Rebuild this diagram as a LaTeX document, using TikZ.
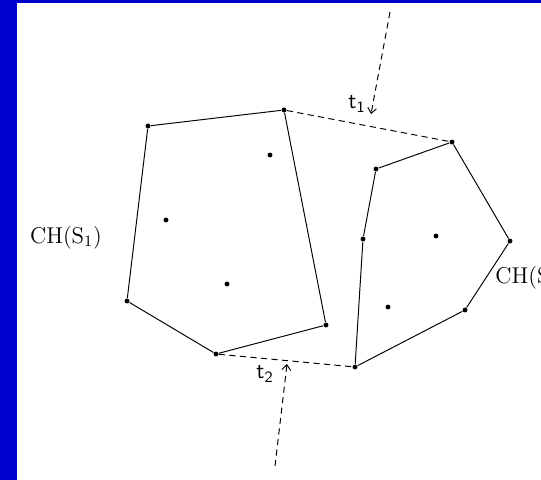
\documentclass[tikz,border=0pt]{standalone}
\usetikzlibrary{positioning, arrows.meta}
\definecolor{frameblue}{RGB}{0,0,204}
\tikzset{
    pt/.style={circle, fill=black, inner sep=0pt, minimum size=2.8pt},
    hull/.style={font=\fontsize{13}{15}\selectfont},
    tlab/.style={font=\fontsize{13}{15}\selectfont\sffamily},
    tang/.style={dash pattern=on 3.5pt off 2.5pt},
    pointer/.style={tang, -{Straight Barb[length=3pt, width=5pt]}}
}

\begin{document}
\begin{tikzpicture}[x=0.02cm, y=-0.02cm, line width=0.55pt]
    % Frame and clipping area
    \clip (0,0) rectangle (541,480);
    \fill[frameblue] (0,0) rectangle (17,480);
    \fill[frameblue] (0,0) rectangle (541,3);

    % Points of S1 (hull, clockwise from top left)
    \node[pt] (a1) at (148,126) {};
    \node[pt] (a2) at (284,110) {};
    \node[pt] (a3) at (326,325) {};
    \node[pt] (a4) at (216,354) {};
    \node[pt] (a5) at (127,301) {};
    % inner points of S1
    \node[pt] (a6) at (270,155) {};
    \node[pt] (a7) at (166,220) {};
    \node[pt] (a8) at (227,284) {};

    % Points of S2 (hull, clockwise from top left)
    \node[pt] (b1) at (376,169) {};
    \node[pt] (b2) at (452,142) {};
    \node[pt] (b3) at (510,241) {};
    \node[pt] (b4) at (465,310) {};
    \node[pt] (b5) at (355,367) {};
    \node[pt] (b6) at (363,239) {};
    % inner points of S2
    \node[pt] (b7) at (436,236) {};
    \node[pt] (b8) at (388,307) {};

    % Draw hulls
    \draw (a1) -- (a2) -- (a3) -- (a4) -- (a5) -- (a1);
    \draw (b1) -- (b2) -- (b3) -- (b4) -- (b5) -- (b6) -- (b1);

    % Tangents
    \draw[tang] (a2) -- (b2);
    \draw[tang] (a4) -- (b5);

    % Arrows to the tangents
    \coordinate (t1s) at (390,12);
    \coordinate (t1e) at (371,114);
    \coordinate (t2s) at (275,466);
    \coordinate (t2e) at (287,364);
    \draw[pointer] (t1s) -- (t1e);
    \draw[pointer] (t2s) -- (t2e);

    % Labels
    \node[tlab] (t1) at (357,104) {t$_{\mathsf{1}}$};
    \node[tlab] (t2) at (265,374) {t$_{\mathsf{2}}$};
    \node[hull] (ch1) at (66,238) {CH(S$_1$)};
    \node[hull, anchor=west, inner sep=0pt] (ch2) at (495,278) {CH(S$_2$)};
\end{tikzpicture}
\end{document}
